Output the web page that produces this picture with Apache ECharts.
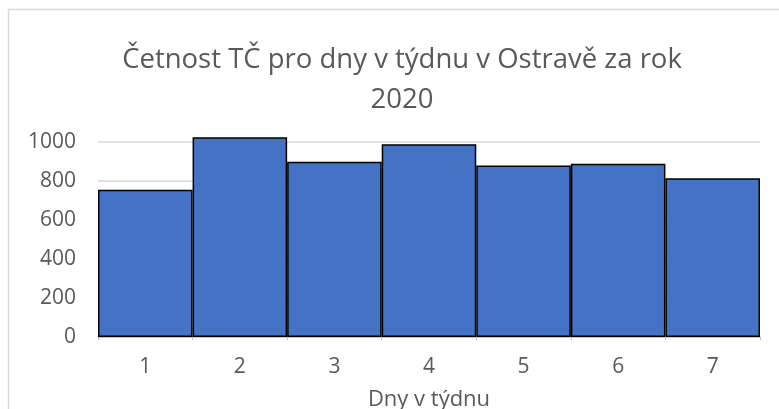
<!DOCTYPE html>
<html>
<head>
<meta charset="utf-8">
<script src="https://cdn.jsdelivr.net/npm/echarts@6/dist/echarts.min.js"></script>
<style>
  html, body { margin: 0; padding: 0; background: #ffffff; }
  #chart { width: 779px; height: 409px; }
</style>
</head>
<body>
<div id="chart"></div>
<script>
// Počet TČ podle dne v týdnu (1 = pondělí ... 7 = neděle)
const days = ['1', '2', '3', '4', '5', '6', '7'];
const counts = [755, 1025, 899, 988, 879, 889, 814];
const yTicks = { min: 0, max: 1000, interval: 200 };

const chart = echarts.init(document.getElementById('chart'), null, { renderer: 'canvas' });
const font = '"Open Sans", "Noto Sans", sans-serif';

chart.setOption({
  backgroundColor: '#ffffff',
  animation: false,
  graphic: [{
    type: 'rect',
    shape: { x: 8.5, y: 9.5, width: 800, height: 500 },
    style: { fill: 'none', stroke: '#d9d9d9', lineWidth: 1.5 },
    silent: true
  }],
  title: {
    text: 'Četnost TČ pro dny v týdnu v Ostravě za rok\n2020',
    left: 397,
    top: 35,
    textAlign: 'center',
    textStyle: {
      fontFamily: font,
      fontSize: 27.5,
      fontWeight: 'normal',
      color: '#595959',
      lineHeight: 40
    }
  },
  grid: {
    left: 98, right: 19, top: 142, bottom: 72,
    containLabel: false,
    outerBoundsMode: 'none'
  },
  xAxis: {
    type: 'category',
    data: days,
    name: 'Dny v týdnu',
    nameLocation: 'middle',
    nameGap: 52,
    nameTextStyle: { fontFamily: font, fontSize: 22, color: '#595959' },
    axisLine: { lineStyle: { color: '#bfbfbf', width: 1.5 } },
    axisTick: { show: true, length: 3, lineStyle: { color: '#bfbfbf' } },
    axisLabel: { fontFamily: font, fontSize: 21, color: '#595959', margin: 20 }
  },
  yAxis: {
    type: 'value',
    min: yTicks.min,
    max: yTicks.max,
    interval: yTicks.interval,
    axisLine: { show: false },
    axisTick: { show: false },
    splitLine: { lineStyle: { color: '#d9d9d9', width: 1.5 } },
    axisLabel: {
      fontFamily: font, fontSize: 21, color: '#595959', margin: 22,
      formatter: (v) => String(v)
    }
  },
  series: [{
    type: 'bar',
    data: counts,
    barCategoryGap: '0%',
    clip: false,
    itemStyle: { color: '#4472c4', borderColor: '#000000', borderWidth: 1.5 }
  }]
});
</script>
</body>
</html>
